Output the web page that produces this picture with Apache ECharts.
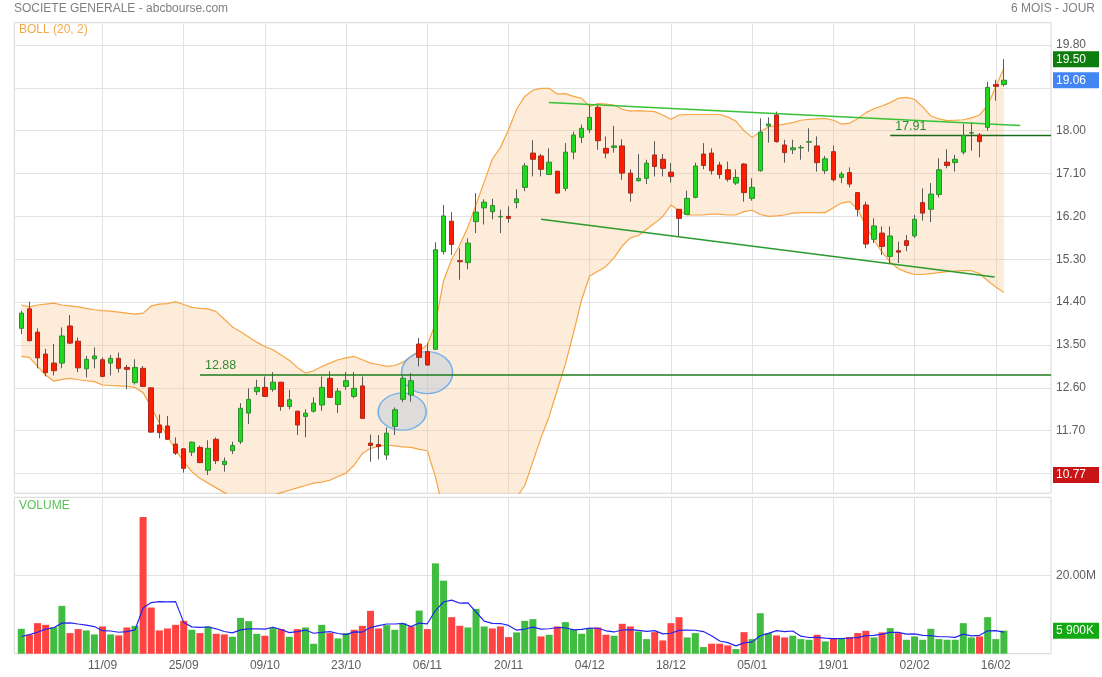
<!DOCTYPE html>
<html><head><meta charset="utf-8">
<script src="https://cdn.jsdelivr.net/npm/echarts@6/dist/echarts.min.js"></script>
<style>html,body{margin:0;padding:0;background:#fff}#c{width:1102px;height:677px}</style>
</head><body><div id="c"></div>
<script>
// ---- data ----
const opens = [13.85,14.26,13.77,13.31,13.12,13.12,13.90,13.58,13.00,13.21,
13.19,13.12,13.22,13.03,12.71,13.01,12.60,11.82,11.80,11.42,
11.32,11.25,11.35,10.87,11.52,10.99,11.28,11.47,12.07,12.52,
12.61,12.57,12.72,12.21,12.11,12.00,12.11,12.24,12.80,12.25,
12.63,12.42,12.64,11.44,11.41,11.19,11.79,12.36,12.45,13.52,
13.36,13.41,15.46,16.10,15.27,15.23,16.09,16.38,16.30,16.19,
16.20,16.49,16.81,17.53,17.47,17.08,17.15,16.79,17.55,17.86,
18.02,18.49,17.63,17.65,17.68,17.11,16.95,17.00,17.49,17.40,
17.13,16.35,16.24,16.60,17.51,17.53,17.28,17.18,16.90,17.30,
16.58,17.16,18.10,18.33,17.70,17.60,17.64,17.76,17.68,17.16,
17.56,17.02,17.12,16.70,16.44,15.72,15.85,15.36,15.48,15.69,
15.79,16.49,16.35,16.66,17.34,17.33,17.55,17.95,17.91,18.07,
18.97,18.97];
const closes = [14.17,13.59,13.23,12.92,12.96,13.69,13.54,13.02,13.20,13.27,
12.84,13.22,13.01,12.99,13.03,12.63,11.67,11.66,11.52,11.23,
10.91,11.46,11.03,11.33,11.07,11.06,11.39,12.17,12.36,12.61,
12.42,12.72,12.21,12.35,11.82,12.07,12.28,12.61,12.40,12.53,
12.75,12.59,11.96,11.39,11.37,11.65,12.14,12.80,12.75,13.24,
13.08,15.50,16.21,15.61,15.25,15.64,16.29,16.50,16.43,16.20,
16.16,16.57,17.26,17.40,17.19,17.34,16.69,17.55,17.91,18.05,
18.28,17.79,17.53,17.68,17.11,16.69,17.00,17.32,17.25,17.21,
17.04,16.16,16.58,17.26,17.27,17.16,17.08,16.98,17.02,16.70,
16.81,17.97,18.14,17.77,17.54,17.64,17.65,17.77,17.33,17.41,
16.97,17.09,16.88,16.35,15.62,16.00,15.57,15.79,15.45,15.59,
16.14,16.27,16.67,17.18,17.27,17.40,17.90,17.96,17.77,18.91,
18.93,19.06];
const lows = [13.73,13.58,13.01,12.84,12.86,13.01,13.52,12.93,12.82,13.01,
12.83,12.86,12.92,12.57,12.67,12.62,11.66,11.54,11.51,11.19,
10.82,11.17,11.02,10.77,11.00,10.84,11.21,11.42,11.84,12.45,
12.42,12.52,12.12,12.15,11.61,11.56,12.08,12.12,12.40,12.07,
12.56,12.38,11.96,11.05,11.10,11.09,11.61,12.30,12.31,13.05,
13.06,13.40,15.40,15.39,14.87,15.09,15.85,16.03,16.14,15.85,
16.07,16.37,16.73,17.04,17.04,17.08,16.69,16.73,17.40,17.74,
17.95,17.60,17.42,17.54,16.97,16.51,16.93,16.88,17.04,17.04,
16.91,15.78,16.23,16.58,17.19,17.08,16.99,16.93,16.86,16.51,
16.53,17.14,17.75,17.75,17.33,17.51,17.39,17.56,17.14,17.09,
16.93,16.90,16.81,16.20,15.53,15.64,15.39,15.20,15.22,15.47,
15.75,16.11,16.08,16.60,17.21,17.14,17.50,17.58,17.44,18.00,
18.63,18.93];
const highs = [14.22,14.41,13.85,13.42,13.52,13.87,14.13,13.66,13.27,13.45,
13.24,13.29,13.34,13.08,13.20,13.06,12.61,12.04,12.01,11.56,
11.33,11.47,11.39,11.50,11.56,11.14,11.47,12.28,12.59,12.77,
12.84,12.93,12.72,12.56,12.12,12.15,12.40,12.84,12.95,12.60,
12.93,12.93,12.84,11.62,11.61,11.77,12.19,12.84,12.91,13.65,
13.54,15.66,16.44,16.29,15.53,15.74,16.69,16.56,16.57,16.34,
16.41,16.77,17.32,17.80,17.51,17.63,17.15,17.74,17.98,18.13,
18.56,18.54,17.88,18.10,17.82,17.19,17.51,17.39,17.78,17.51,
17.32,16.35,16.74,17.33,17.74,17.63,17.35,17.35,17.19,17.32,
17.00,18.26,18.28,18.40,17.81,17.81,17.70,18.05,17.88,17.47,
17.69,17.14,17.23,16.70,16.51,16.16,15.99,15.99,15.67,15.81,
16.23,16.79,16.90,17.42,17.61,17.49,18.14,18.18,17.95,19.03,
19.07,19.50];
const bollUpper = [14.34,14.30,14.34,14.36,14.38,14.34,14.32,14.30,14.27,14.24,
14.22,14.21,14.19,14.17,14.15,14.17,14.32,14.36,14.37,14.41,
14.35,14.29,14.27,14.26,14.20,14.04,13.88,13.78,13.67,13.56,
13.47,13.40,13.29,13.18,13.03,12.91,12.96,13.05,13.12,13.19,
13.23,13.26,13.19,13.12,13.09,13.05,13.07,13.14,13.26,13.38,
13.50,13.95,14.85,15.30,15.60,15.98,16.45,16.92,17.40,17.65,
18.02,18.45,18.72,18.85,18.89,18.89,18.77,18.78,18.72,18.68,
18.51,18.57,18.56,18.54,18.45,18.41,18.42,18.41,18.40,18.33,
18.24,18.33,18.34,18.34,18.34,18.34,18.34,18.29,18.20,18.00,
17.86,17.98,18.08,18.11,18.14,18.17,18.22,18.24,18.25,18.26,
18.22,18.14,18.16,18.25,18.38,18.46,18.52,18.59,18.68,18.70,
18.66,18.50,18.31,18.25,18.21,18.22,18.23,18.27,18.33,18.53,
18.93,19.31];
const bollLower = [13.26,13.24,13.05,12.87,12.74,12.78,12.80,12.77,12.75,12.73,
12.66,12.65,12.64,12.63,12.61,12.50,12.20,11.86,11.58,11.30,
11.05,10.84,10.70,10.60,10.50,10.40,10.30,10.20,10.20,10.25,
10.30,10.35,10.40,10.45,10.50,10.55,10.60,10.62,10.66,10.74,
10.81,10.98,11.22,11.33,11.37,11.40,11.38,11.36,11.35,11.31,
11.28,10.73,10.00,9.60,9.30,9.10,9.00,9.00,9.10,9.40,
9.90,10.30,10.55,11.05,11.55,12.00,12.55,13.10,13.75,14.45,
14.95,15.05,15.15,15.33,15.58,15.75,15.80,15.93,16.06,16.20,
16.44,16.32,16.23,16.23,16.23,16.25,16.25,16.23,16.23,16.30,
16.33,16.24,16.20,16.21,16.23,16.27,16.28,16.28,16.28,16.28,
16.38,16.48,16.51,16.35,16.00,15.70,15.45,15.24,15.10,15.03,
14.98,14.98,15.00,15.02,15.04,15.05,15.06,15.06,15.00,14.85,
14.72,14.60];
// volumes in millions
const volumes = [6.38,4.85,7.83,7.40,6.80,12.26,5.28,6.30,5.96,4.94,
6.98,4.94,4.68,6.72,7.15,35.06,11.83,5.96,6.47,7.40,
8.43,6.13,5.28,6.98,5.10,4.94,4.34,9.19,8.34,5.10,
4.60,6.64,6.30,4.34,6.30,6.72,2.55,7.40,5.28,3.91,
5.28,6.13,7.15,10.98,6.47,7.32,6.13,7.83,6.98,11.06,
6.30,23.15,18.72,9.36,7.15,6.72,11.49,6.98,6.47,6.98,
4.26,5.45,8.43,8.85,4.43,4.85,6.98,8.09,6.13,5.11,
6.55,6.72,4.85,4.60,7.66,6.98,5.70,3.74,5.53,3.40,
7.83,9.36,4.17,5.28,1.70,2.55,2.55,2.13,1.19,5.53,
3.74,10.38,5.28,4.68,4.17,4.60,3.74,3.57,4.85,3.15,
4.00,3.83,4.26,5.28,5.87,4.17,5.45,6.55,5.28,3.57,
4.43,3.57,6.38,3.74,3.57,3.57,7.83,4.17,4.43,9.36,
3.74,5.90];
const volDir = ['u','d','d','d','u','u','d','d','u','u',
'd','u','d','d','u','d','d','d','d','d',
'd','u','d','u','d','d','u','u','u','u',
'd','u','d','u','d','u','u','u','d','u',
'u','d','d','d','d','u','u','u','d','u',
'd','u','u','d','d','u','u','u','d','d',
'd','u','u','u','d','u','d','u','u','u',
'u','d','d','u','d','d','u','u','d','d',
'd','d','u','u','u','d','d','d','u','d',
'u','u','u','d','d','u','u','u','d','u',
'd','u','d','d','d','u','d','u','d','u',
'u','u','u','u','u','u','u','u','d','u',
'u','u'];
const volumeMA5 = [4.4,4.9,5.5,6.3,6.65,7.83,7.91,7.61,7.32,6.95,
5.89,5.82,5.50,5.65,6.09,11.71,13.09,13.34,13.29,13.34,
8.02,6.88,6.74,6.84,6.38,5.69,5.33,6.11,6.38,6.38,
6.31,6.77,6.20,5.40,5.64,6.06,5.24,5.46,5.65,5.17,
4.88,5.60,5.55,6.69,7.20,7.61,7.61,7.75,6.95,7.86,
7.66,11.06,13.24,13.72,12.94,13.02,10.69,8.34,7.76,7.73,
7.24,6.03,6.32,6.79,6.28,6.40,6.71,6.64,6.10,6.23,
6.57,6.52,5.87,5.57,6.08,6.16,5.96,5.74,5.92,5.07,
5.24,5.97,6.06,6.01,5.67,4.61,3.25,2.84,2.02,2.79,
3.03,4.59,5.22,5.92,5.65,5.82,4.49,4.15,4.19,3.98,
3.86,3.88,4.02,4.10,4.65,4.68,5.01,5.46,5.46,5.00,
5.06,4.68,4.65,4.34,4.34,4.17,5.02,4.58,4.71,5.87,
5.91,5.52];
const dateTicks = [10,20,30,40,50,60,70,80,90,100,110,120];
const dateLabels = ['11/09','25/09','09/10','23/10','06/11','20/11','04/12','18/12','05/01','19/01','02/02','16/02'];
const priceTicks = [10.8,11.7,12.6,13.5,14.4,15.3,16.2,17.1,18.0,18.9,19.8];
const priceHiddenTicks = [10.8,18.9];
const volumeTicks = [20];
// annotation lines [[x1,y1],[x2,y2]] in data coordinates
const resistanceLine = [[64.96,18.59],[123.0,18.11]];
const supportLine = [[64.0,16.14],[119.85,14.93]];
const level1288 = [[22,12.88],[126.8,12.88]];
const level1791 = [[107,17.91],[126.8,17.91]];
const ellipses = [[46.9,12.10,48,37],[49.97,12.92,51,42]];
const priceBadges = [[19.50,'#0d7d0d'],[19.06,'#4285f4'],[10.77,'#c81414']];
const lastVolume = 5.90;

// ---- chart ----
const FONT = 'Liberation Sans, Arial, sans-serif';
const X_MIN = -0.86, X_MAX = 126.8;
const P_MIN = 10.386, P_MAX = 20.268;
const V_MAX = 40.08;
const UP = '#1fd81f', UP_B = '#2e8e2e', DN = '#ff1c00', DN_B = '#a82a1a';
const idx = opens.map((_, i) => i);

const wickData = idx.map(i => [i, opens[i], closes[i], lows[i], highs[i]]);
const bodyData = idx.map(i => [i, opens[i], closes[i], Math.min(opens[i], closes[i]), Math.max(opens[i], closes[i])]);
const volData = idx.map(i => ({ value: [i, volumes[i]], itemStyle: { color: volDir[i] === 'u' ? '#40bd40' : '#ff4242' } }));

const near = (a, b) => Math.abs(a - b) < 1e-6;
const badgeRich = {};
priceBadges.forEach((b, k) => {
  badgeRich['b' + k] = { backgroundColor: b[1], color: '#fff', fontSize: 12, fontFamily: FONT, padding: [2, 3, 2, 3], width: 40, lineHeight: 12 };
});
badgeRich.v = { backgroundColor: '#12a912', color: '#fff', fontSize: 12, fontFamily: FONT, padding: [2, 3, 2, 3], width: 40, lineHeight: 12 };

const labelStyle = { color: '#5c5c5c', fontSize: 12, fontFamily: FONT };
const splitStyle = { lineStyle: { color: '#e2e2e2', width: 1 } };

function mlLine(pts, color, width, label) {
  const item = [
    { coord: pts[0], lineStyle: { color: color, width: width, type: 'solid' } },
    { coord: pts[1] }
  ];
  if (label) {
    item[0].label = { show: true, formatter: label, position: 'insideStartTop', distance: [5, 2], color: '#2f8a2f', fontSize: 12.5, fontFamily: FONT };
  } else {
    item[0].label = { show: false };
  }
  return item;
}

const option = {
  animation: false,
  backgroundColor: '#fff',
  title: [
    { text: 'SOCIETE GENERALE - abcbourse.com', left: 14, top: 3, padding: 0, textStyle: { fontSize: 12, color: '#808080', fontWeight: 'normal', fontFamily: FONT } },
    { text: '6 MOIS - JOUR', right: 7, top: 3, padding: 0, textStyle: { fontSize: 12, color: '#808080', fontWeight: 'normal', fontFamily: FONT } },
    { text: 'BOLL (20, 2)', left: 19, top: 24, padding: 0, textStyle: { fontSize: 12, color: '#f5a94a', fontWeight: 'normal', fontFamily: FONT } },
    { text: 'VOLUME', left: 19, top: 500, padding: 0, textStyle: { fontSize: 12, color: '#55c455', fontWeight: 'normal', fontFamily: FONT } }
  ],
  grid: [
    { left: 14.3, top: 22.7, width: 1039, height: 470.6, show: true, borderColor: '#d6d6d6', borderWidth: 1, backgroundColor: 'transparent' },
    { left: 14.3, top: 497.3, width: 1039, height: 156.4, show: true, borderColor: '#d6d6d6', borderWidth: 1, backgroundColor: 'transparent' }
  ],
  xAxis: [
    { type: 'value', gridIndex: 0, min: X_MIN, max: X_MAX, axisLine: { show: false }, axisTick: { show: false, customValues: dateTicks },
      axisLabel: { show: false, customValues: dateTicks }, splitLine: Object.assign({ show: true }, splitStyle) },
    { type: 'value', gridIndex: 1, min: X_MIN, max: X_MAX, axisLine: { show: false }, axisTick: { show: false, customValues: dateTicks },
      axisLabel: Object.assign({ customValues: dateTicks, margin: 6, formatter: v => dateLabels[dateTicks.indexOf(Math.round(v))] || '' }, labelStyle),
      splitLine: Object.assign({ show: true }, splitStyle) }
  ],
  yAxis: [
    { type: 'value', gridIndex: 0, position: 'right', min: P_MIN, max: P_MAX, axisLine: { show: false }, axisTick: { show: false, customValues: priceTicks },
      axisLabel: Object.assign({ customValues: priceTicks, margin: 5, formatter: v => priceHiddenTicks.some(h => near(h, v)) ? '' : v.toFixed(2) }, labelStyle),
      splitLine: Object.assign({ show: true }, splitStyle) },
    { type: 'value', gridIndex: 1, position: 'right', min: 0, max: V_MAX, axisLine: { show: false }, axisTick: { show: false, customValues: volumeTicks },
      axisLabel: Object.assign({ customValues: volumeTicks, margin: 5, formatter: v => v.toFixed(2) + 'M' }, labelStyle),
      splitLine: Object.assign({ show: true }, splitStyle) },
    { type: 'value', gridIndex: 0, position: 'right', min: P_MIN, max: P_MAX, axisLine: { show: false }, axisTick: { show: false }, splitLine: { show: false },
      axisLabel: { customValues: priceBadges.map(b => b[0]), margin: 2, rich: badgeRich,
        formatter: v => { const k = priceBadges.findIndex(b => near(b[0], v)); return k < 0 ? '' : '{b' + k + '|' + v.toFixed(2) + '}'; } } },
    { type: 'value', gridIndex: 1, position: 'right', min: 0, max: V_MAX, axisLine: { show: false }, axisTick: { show: false }, splitLine: { show: false },
      axisLabel: { customValues: [lastVolume], margin: 2, rich: badgeRich,
        formatter: v => '{v|' + (Math.floor(v) + ' ' + String(Math.round((v - Math.floor(v)) * 1000)).padStart(3, '0')) + 'K}' } }
  ],
  series: [
    { type: 'custom', name: 'band', xAxisIndex: 0, yAxisIndex: 0, clip: true, silent: true, z: 1,
      data: [[0, bollUpper[0]]], encode: { x: 0, y: 1 },
      renderItem: function (params, api) {
        const pts = [];
        for (let i = 0; i < bollUpper.length; i++) pts.push(api.coord([i, bollUpper[i]]));
        for (let i = bollLower.length - 1; i >= 0; i--) pts.push(api.coord([i, bollLower[i]]));
        return { type: 'polygon', shape: { points: pts }, style: { fill: 'rgba(248,192,128,0.3)' } };
      } },
    { type: 'line', name: 'upper', xAxisIndex: 0, yAxisIndex: 0, z: 2, showSymbol: false, symbol: 'none', silent: true,
      data: idx.map(i => [i, bollUpper[i]]), lineStyle: { color: '#f6a545', width: 1.2 } },
    { type: 'line', name: 'lower', xAxisIndex: 0, yAxisIndex: 0, z: 2, showSymbol: false, symbol: 'none', silent: true,
      data: idx.map(i => [i, bollLower[i]]), lineStyle: { color: '#f6a545', width: 1.2 } },
    { type: 'scatter', name: 'circles', xAxisIndex: 0, yAxisIndex: 0, z: 3, silent: true,
      data: ellipses.map(e => ({ value: [e[0], e[1]], symbolSize: [e[2], e[3]] })),
      itemStyle: { color: 'rgba(165,190,222,0.45)', borderColor: '#5aa5ee', borderWidth: 1.5 } },
    { type: 'line', name: 'annot', xAxisIndex: 0, yAxisIndex: 0, z: 3, data: [], silent: true,
      markLine: { silent: true, symbol: ['none', 'none'], animation: false,
        data: [
          mlLine(resistanceLine, '#36c236', 1.5),
          mlLine(supportLine, '#2c9a2c', 1.5),
          mlLine(level1288, '#1c7c1c', 1.5, '12.88'),
          mlLine(level1791, '#1a6a1a', 1.3, '17.91')
        ] } },
    { type: 'candlestick', name: 'wick', xAxisIndex: 0, yAxisIndex: 0, z: 4, silent: true, barWidth: 0.5,
      data: wickData, encode: { x: 0, y: [1, 2, 3, 4] },
      itemStyle: { color: '#5a5a5a', color0: '#5a5a5a', borderColor: '#5a5a5a', borderColor0: '#5a5a5a', borderColorDoji: '#5a5a5a', borderWidth: 1 } },
    { type: 'candlestick', name: 'body', xAxisIndex: 0, yAxisIndex: 0, z: 5, silent: true, barWidth: 5,
      data: bodyData, encode: { x: 0, y: [1, 2, 3, 4] },
      itemStyle: { color: UP, color0: DN, borderColor: UP_B, borderColor0: DN_B, borderColorDoji: '#6a5a3a', borderWidth: 1 } },
    { type: 'bar', name: 'volume', xAxisIndex: 1, yAxisIndex: 1, barWidth: 7, z: 2, silent: true, data: volData },
    { type: 'line', name: 'volMA', xAxisIndex: 1, yAxisIndex: 1, z: 3, showSymbol: false, symbol: 'none', silent: true,
      data: idx.map(i => [i, volumeMA5[i]]), lineStyle: { color: '#2424f0', width: 1.2 } }
  ]
};
const chart = echarts.init(document.getElementById('c'), null, { renderer: 'canvas' });
chart.setOption(option);
</script>
</body></html>
